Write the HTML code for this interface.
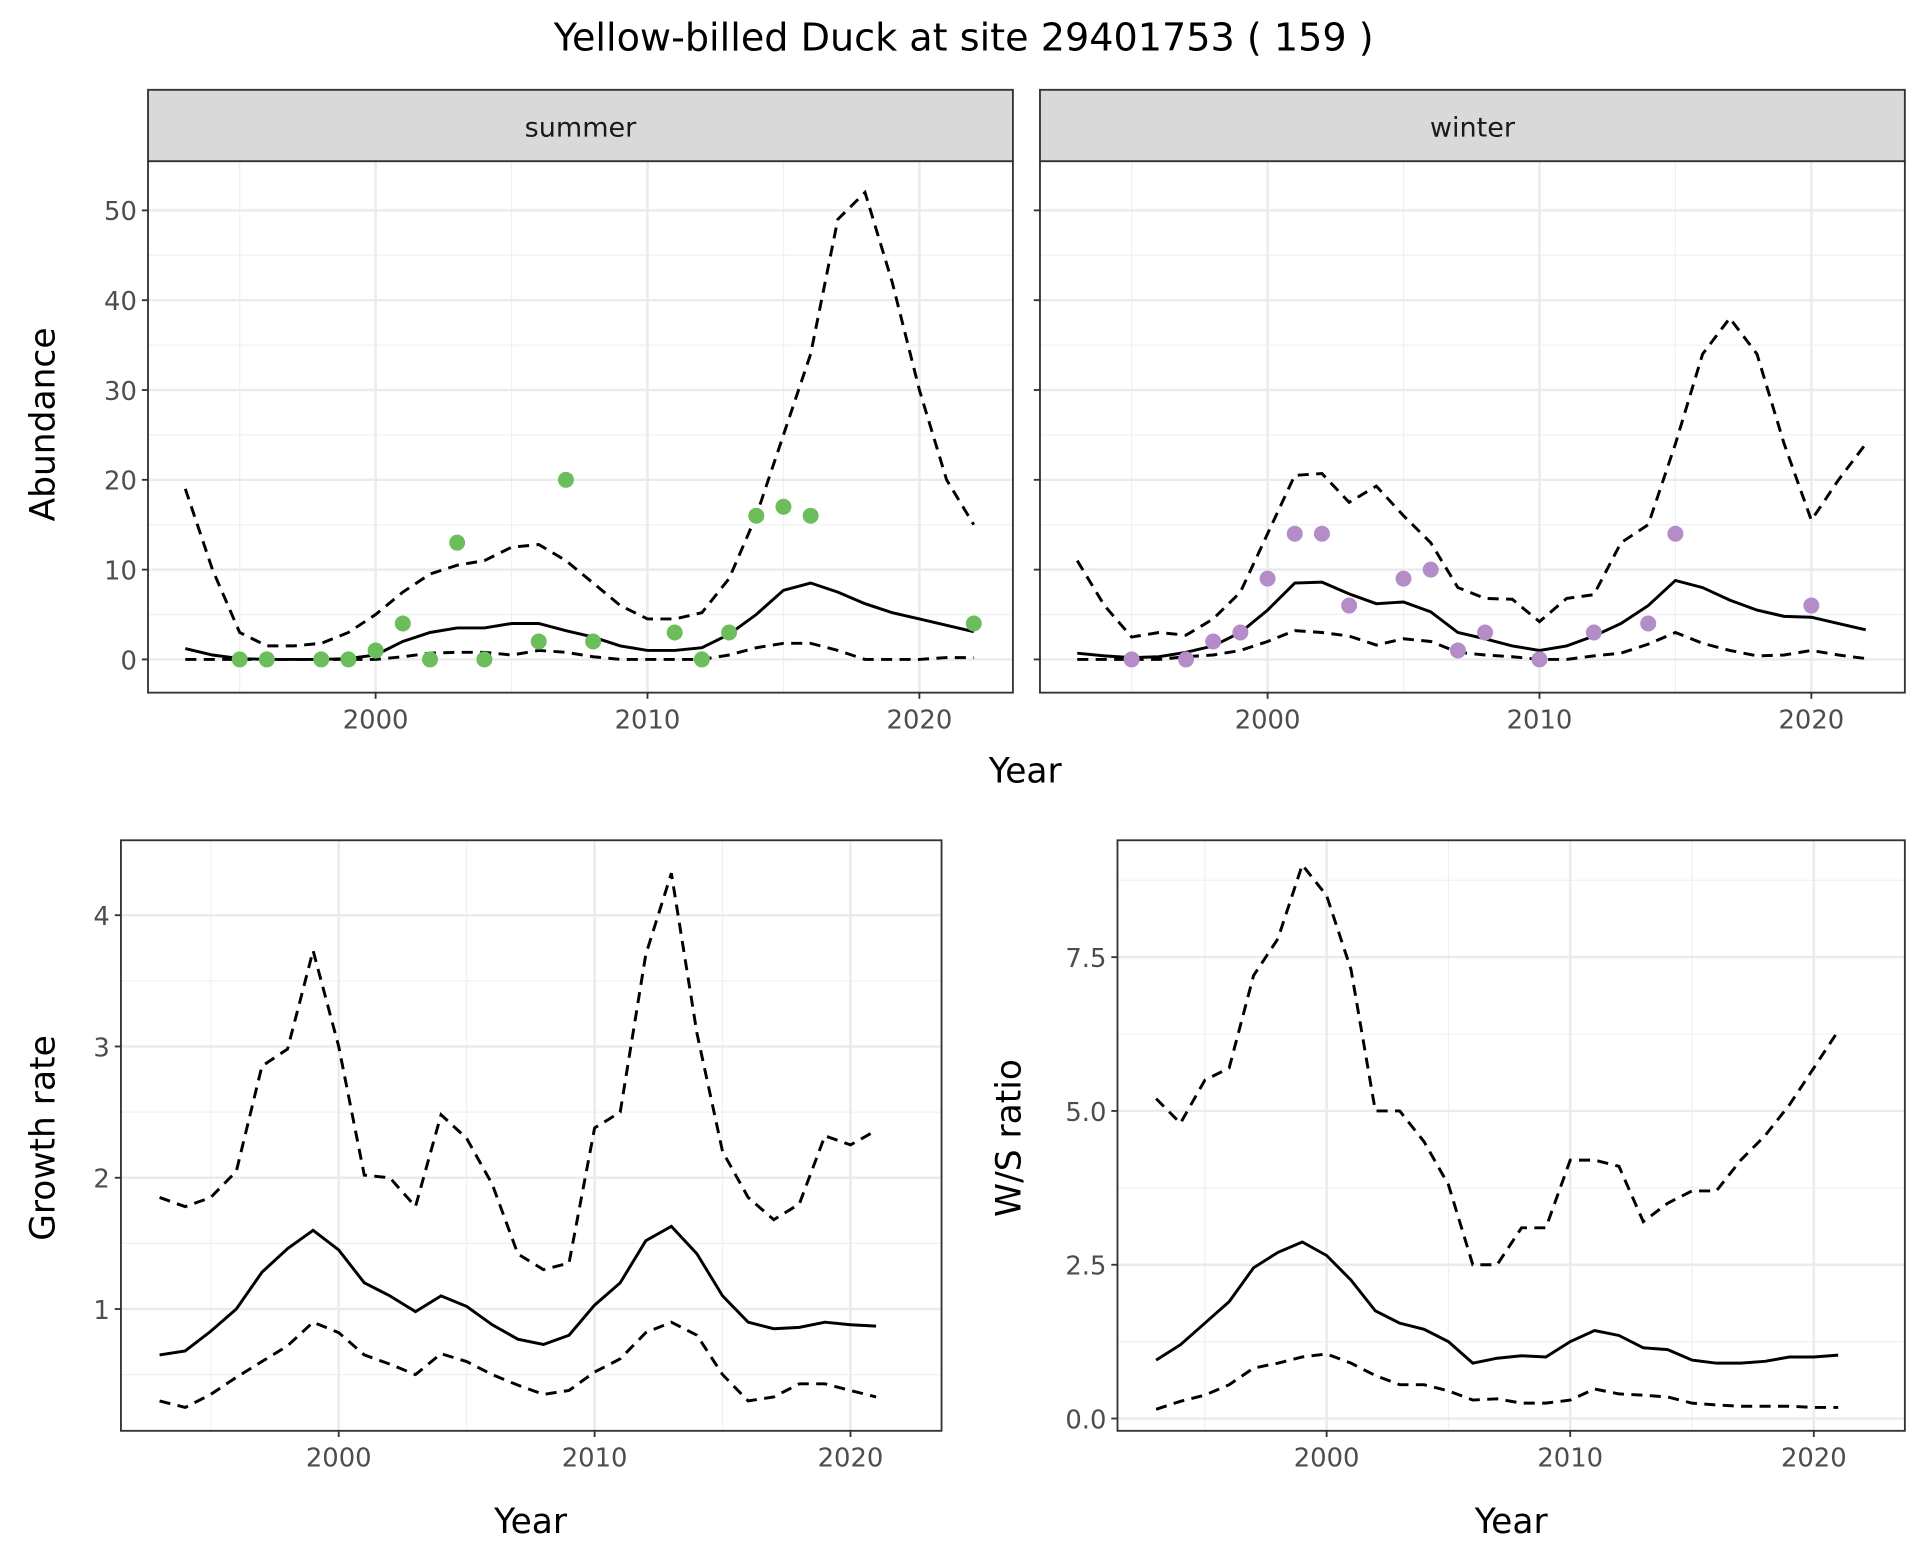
<!DOCTYPE html>
<html><head><meta charset="utf-8"><style>
html,body{margin:0;padding:0;background:#fff;}
svg{display:block;font-family:"DejaVu Sans","Liberation Sans",sans-serif;}
</style></head><body>
<svg id="s" width="1920" height="1560" viewBox="0 0 1560 1268" xmlns="http://www.w3.org/2000/svg"></svg>
<script>
const S=document.getElementById('s');let h='';
h+='<rect width="1560" height="1268" fill="#fff"/>';
h+='<text x="783" y="41" font-size="31" text-anchor="middle" fill="#000">Yellow-billed Duck at site 29401753 ( 159 )</text>';
function panel(o){
 const {x0,x1,y0,y1,xs,ys,xt,yt}=o;
 let g='';
 o.xminor.forEach(v=>{const X=xs(v);g+=`<line x1="${X}" x2="${X}" y1="${y0}" y2="${y1}" stroke="#f0f0f0" stroke-width="1"/>`});
 o.yminor.forEach(v=>{const Y=ys(v);g+=`<line x1="${x0}" x2="${x1}" y1="${Y}" y2="${Y}" stroke="#f0f0f0" stroke-width="1"/>`});
 xt.forEach(v=>{const X=xs(v);g+=`<line x1="${X}" x2="${X}" y1="${y0}" y2="${y1}" stroke="#ebebeb" stroke-width="2"/>`});
 yt.forEach(v=>{const Y=ys(v[0]);g+=`<line x1="${x0}" x2="${x1}" y1="${Y}" y2="${Y}" stroke="#ebebeb" stroke-width="2"/>`});
 return g;
}
function frame(o){
 const {x0,x1,y0,y1,xs,ys,xt,yt}=o;let g='';
 g+=`<rect x="${x0}" y="${y0}" width="${x1-x0}" height="${y1-y0}" fill="none" stroke="#333" stroke-width="1.5"/>`;
 if(o.ylab){yt.forEach(v=>{const Y=ys(v[0]);g+=`<line x1="${x0-5}" x2="${x0}" y1="${Y}" y2="${Y}" stroke="#333" stroke-width="1.5"/><text x="${x0-9}" y="${Y+8}" font-size="21" text-anchor="end" fill="#4d4d4d">${v[1]}</text>`});}
 else yt.forEach(v=>{const Y=ys(v[0]);g+=`<line x1="${x0-5}" x2="${x0}" y1="${Y}" y2="${Y}" stroke="#333" stroke-width="1.5"/>`});
 xt.forEach(v=>{const X=xs(v);g+=`<line x1="${X}" x2="${X}" y1="${y1}" y2="${y1+5}" stroke="#333" stroke-width="1.5"/><text x="${X}" y="${y1+29}" font-size="21" text-anchor="middle" fill="#4d4d4d">${v}</text>`});
 return g;
}
function line(xs,ys,start,arr,dash){
 const p=arr.map((v,i)=>xs(start+i).toFixed(1)+','+ys(v).toFixed(1)).join(' ');
 return `<polyline points="${p}" fill="none" stroke="#000" stroke-width="2.4" ${dash?'stroke-dasharray="9,6"':''}/>`;
}
function pts(xs,ys,arr,c){return arr.map(p=>`<circle cx="${xs(p[0])}" cy="${ys(p[1])}" r="6.5" fill="${c}"/>`).join('');}
const xticks=[2000,2010,2020];
const ysT=v=>536-v*7.3;
const ytT=[[0,'0'],[10,'10'],[20,'20'],[30,'30'],[40,'40'],[50,'50']];
const yminT=[5,15,25,35,45];
const sum={x0:120,x1:823,y0:131,y1:563,xs:v=>305+(v-2000)*22.1,ys:ysT,xt:xticks,yt:ytT,xminor:[1995,2005,2015],yminor:yminT,ylab:true};
const win={x0:845,x1:1548,y0:131,y1:563,xs:v=>1030+(v-2000)*22.1,ys:ysT,xt:xticks,yt:ytT,xminor:[1995,2005,2015],yminor:yminT,ylab:false};
[sum,win].forEach(o=>{h+=panel(o);});
const sM=[1.2,0.5,0.1,0,0,0,0.1,0.5,2,3,3.5,3.5,4,4,3.2,2.5,1.5,1,1,1.3,2.8,5,7.7,8.5,7.5,6.2,5.2,4.5,3.8,3.1];
const sU=[19,10,3,1.5,1.5,1.8,3,5,7.5,9.5,10.5,11,12.5,12.8,11,8.5,6,4.5,4.5,5.2,9,16,25,34,49,52,42,30,20,15];
const sL=[0,0,0,0,0,0,0,0,0.3,0.7,0.8,0.8,0.5,1,0.8,0.3,0,0,0,0,0.5,1.3,1.8,1.8,1,0,0,0,0.2,0.2];
const sP=[[1995,0],[1996,0],[1998,0],[1999,0],[2000,1],[2001,4],[2002,0],[2003,13],[2004,0],[2006,2],[2007,20],[2008,2],[2011,3],[2012,0],[2013,3],[2014,16],[2015,17],[2016,16],[2022,4]];
const wM=[0.7,0.4,0.2,0.3,0.8,1.5,3,5.5,8.5,8.6,7.3,6.2,6.4,5.3,3,2.3,1.5,1,1.5,2.6,4,6,8.8,8,6.6,5.5,4.8,4.7,4,3.3];
const wU=[11,6,2.5,3,2.7,4.5,7.5,14,20.5,20.7,17.5,19.3,16,13,8,6.8,6.7,4.2,6.8,7.2,13,15,24,34,38,34,24,15.5,20,24];
const wL=[0,0,0,0,0.3,0.5,1,2,3.2,3,2.6,1.6,2.3,2,0.8,0.5,0.3,0,0,0.4,0.7,1.7,3,1.8,1,0.4,0.5,1,0.5,0.1];
const wP=[[1995,0],[1997,0],[1998,2],[1999,3],[2000,9],[2001,14],[2002,14],[2003,6],[2005,9],[2006,10],[2007,1],[2008,3],[2010,0],[2012,3],[2014,4],[2015,14],[2020,6]];
h+=line(sum.xs,ysT,1993,sM)+line(sum.xs,ysT,1993,sU,1)+line(sum.xs,ysT,1993,sL,1)+pts(sum.xs,ysT,sP,'#6cbd5c');
h+=line(win.xs,ysT,1993,wM)+line(win.xs,ysT,1993,wU,1)+line(win.xs,ysT,1993,wL,1)+pts(win.xs,ysT,wP,'#b48cc8');
h+=frame(sum)+frame(win);
[[120,823,'summer'],[845,1548,'winter']].forEach(s=>{h+=`<rect x="${s[0]}" y="73" width="${s[1]-s[0]}" height="58" fill="#d9d9d9" stroke="#333" stroke-width="1.5"/><text x="${(s[0]+s[1])/2}" y="111" font-size="22" text-anchor="middle" fill="#1a1a1a">${s[2]}</text>`;});
h+='<text x="833" y="636" font-size="28" text-anchor="middle">Year</text>';
h+='<text transform="translate(44,345) rotate(-90)" font-size="28" text-anchor="middle">Abundance</text>';
const gys=v=>1064-(v-1)*106.7;
const gr={x0:98,x1:765,y0:683,y1:1163,xs:v=>275+(v-2000)*20.8,ys:gys,xt:xticks,yt:[[1,'1'],[2,'2'],[3,'3'],[4,'4']],xminor:[1995,2005,2015],yminor:[0.5,1.5,2.5,3.5],ylab:true};
h+=panel(gr);
const gM=[.65,.68,.83,1.0,1.28,1.46,1.6,1.45,1.2,1.1,.98,1.1,1.02,.88,.77,.73,.8,1.03,1.2,1.52,1.63,1.42,1.1,.9,.85,.86,.9,.88,.87];
const gU=[1.85,1.78,1.85,2.05,2.85,2.98,3.73,3.0,2.02,2.0,1.78,2.48,2.3,1.95,1.42,1.3,1.35,2.38,2.5,3.7,4.32,3.1,2.2,1.85,1.68,1.8,2.32,2.25,2.36];
const gL=[.3,.25,.35,.48,.6,.72,.9,.82,.65,.58,.5,.66,.6,.5,.42,.35,.38,.52,.62,.82,.9,.8,.5,.3,.33,.43,.43,.38,.33];
h+=line(gr.xs,gys,1993,gM)+line(gr.xs,gys,1993,gU,1)+line(gr.xs,gys,1993,gL,1);
h+=frame(gr);
h+='<text x="431" y="1246" font-size="28" text-anchor="middle">Year</text>';
h+='<text transform="translate(44,925) rotate(-90)" font-size="28" text-anchor="middle">Growth rate</text>';
const wys=v=>1153-v*50;
const ws={x0:908,x1:1548,y0:683,y1:1163,xs:v=>1078+(v-2000)*19.8,ys:wys,xt:xticks,yt:[[0,'0.0'],[2.5,'2.5'],[5,'5.0'],[7.5,'7.5']],xminor:[1995,2005,2015],yminor:[1.25,3.75,6.25,8.75],ylab:true};
h+=panel(ws);
const rM=[.95,1.2,1.55,1.9,2.45,2.7,2.87,2.65,2.25,1.75,1.55,1.45,1.25,.9,.98,1.02,1.0,1.25,1.43,1.35,1.15,1.12,.95,.9,.9,.93,1.0,1.0,1.03];
const rU=[5.2,4.8,5.5,5.7,7.2,7.8,9.0,8.5,7.3,5.0,5.0,4.5,3.8,2.5,2.5,3.1,3.1,4.2,4.2,4.1,3.2,3.5,3.7,3.7,4.2,4.6,5.1,5.7,6.3];
const rL=[.15,.28,.38,.55,.82,.9,1.0,1.05,.9,.7,.55,.55,.45,.3,.32,.25,.25,.3,.48,.4,.38,.35,.25,.22,.2,.2,.2,.18,.18];
h+=line(ws.xs,wys,1993,rM)+line(ws.xs,wys,1993,rU,1)+line(ws.xs,wys,1993,rL,1);
h+=frame(ws);
h+='<text x="1228" y="1246" font-size="28" text-anchor="middle">Year</text>';
h+='<text transform="translate(829,925) rotate(-90)" font-size="28" text-anchor="middle">W/S ratio</text>';
S.innerHTML=h;
</script>
</body></html>
